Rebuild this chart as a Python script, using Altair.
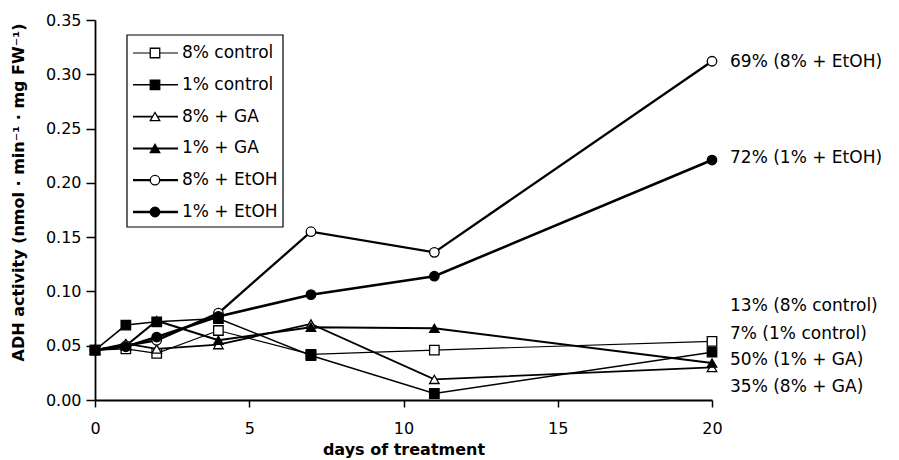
import altair as alt
import pandas as pd

# Sampling days and ADH activity per treatment (nmol · min⁻¹ · mg FW⁻¹)
days = [0, 1, 2, 4, 7, 11, 20]
series_names = ["8% control", "1% control", "8% + GA", "1% + GA", "8% + EtOH", "1% + EtOH"]
ctrl8 = [0.046, 0.047, 0.043, 0.064, 0.042, 0.046, 0.054]
ctrl1 = [0.046, 0.069, 0.072, 0.075, 0.041, 0.006, 0.044]
ga8 = [0.046, 0.052, 0.047, 0.051, 0.070, 0.019, 0.030]
ga1 = [0.046, 0.050, 0.073, 0.055, 0.067, 0.066, 0.034]
etoh8 = [0.046, 0.050, 0.055, 0.080, 0.155, 0.136, 0.312]
etoh1 = [0.046, 0.049, 0.058, 0.077, 0.097, 0.114, 0.221]

# Annotations at the right-hand end of the curves
end_labels = ["69% (8% + EtOH)", "72% (1% + EtOH)", "13% (8% control)",
              "7% (1% control)", "50% (1% + GA)", "35% (8% + GA)"]
end_label_y = [0.311, 0.223, 0.087, 0.061, 0.037, 0.012]

x_ticks = [0, 5, 10, 15, 20]
y_ticks = [0.0, 0.05, 0.10, 0.15, 0.20, 0.25, 0.30, 0.35]

FONT = "DejaVu Sans"

values_by_series = [ctrl8, ctrl1, ga8, ga1, etoh8, etoh1]
rows = []
for name, vals in zip(series_names, values_by_series):
    for d, v in zip(days, vals):
        rows.append({"series": name, "day": d, "value": v})
df = pd.DataFrame(rows)

labels_df = pd.DataFrame({"day": [20] * len(end_labels), "value": end_label_y, "label": end_labels})

# 8% series: open markers on thin lines; 1% series: filled markers on thick lines
shape_scale = alt.Scale(domain=series_names,
                        range=["square", "square", "triangle-up", "triangle-up", "circle", "circle"])
fill_scale = alt.Scale(domain=series_names,
                       range=["white", "black", "white", "black", "white", "black"])
width_scale = alt.Scale(domain=series_names, range=[1.2, 2.6, 1.2, 2.6, 1.2, 2.6])

x_enc = alt.X("day:Q",
              scale=alt.Scale(domain=[0, 20], nice=False, zero=False),
              axis=alt.Axis(values=x_ticks, format="d", grid=False,
                            tickSize=7, tickWidth=1.5, tickColor="black",
                            domainColor="black", domainWidth=1.8,
                            labelFont=FONT, labelFontSize=16, labelColor="black",
                            labelPadding=13, labelFlush=False,
                            title="days of treatment", titleFont=FONT, titleFontSize=16,
                            titleFontWeight="bold", titleColor="black", titlePadding=5))
y_enc = alt.Y("value:Q",
              scale=alt.Scale(domain=[0, 0.35], nice=False),
              axis=alt.Axis(values=y_ticks, format=".2f", grid=False,
                            tickSize=9, tickWidth=1.5, tickColor="black",
                            domainColor="black", domainWidth=1.8,
                            labelFont=FONT, labelFontSize=16, labelColor="black",
                            labelPadding=5, labelFlush=False,
                            title="ADH activity (nmol · min⁻¹ · mg FW⁻¹)",
                            titleFont=FONT, titleFontSize=16, titleFontWeight="bold",
                            titleColor="black", titleX=-77, titleY=172,
                            titleBaseline="middle", titleAlign="center", titleAngle=270))

lines = alt.Chart(df).mark_line(color="black").encode(
    x=x_enc, y=y_enc, detail="series:N",
    strokeWidth=alt.StrokeWidth("series:N", scale=width_scale, legend=None),
)

points = alt.Chart(df).mark_point(filled=True, stroke="black", strokeWidth=1.3,
                                  size=90, opacity=1).encode(
    x="day:Q", y="value:Q",
    shape=alt.Shape("series:N", scale=shape_scale, legend=None),
    fill=alt.Fill("series:N", scale=fill_scale, legend=None),
)

end_text = alt.Chart(labels_df).mark_text(align="left", baseline="middle", dx=18,
                                          font=FONT, fontSize=17, color="black").encode(
    x="day:Q", y="value:Q", text="label:N",
)

# Hand-built legend box in the upper-left corner of the plot (plot-area pixels)
legend_left, legend_right = 32, 188
legend_top, legend_bottom = 15, 207
row_first, row_step = 33, 31.8
legend_df = pd.DataFrame({"series": series_names})
legend_df["ly"] = [row_first + i * row_step for i in range(len(series_names))]

legend_box = alt.Chart(pd.DataFrame({"k": [0]})).mark_rect(
    fill="white", stroke="black", strokeWidth=1.2).encode(
    x=alt.value(legend_left), x2=alt.value(legend_right),
    y=alt.value(legend_top), y2=alt.value(legend_bottom),
)
legend_lines = alt.Chart(legend_df).mark_rule(color="black").encode(
    x=alt.value(legend_left + 6), x2=alt.value(legend_left + 51),
    y=alt.Y("ly:Q", scale=None, axis=None),
    strokeWidth=alt.StrokeWidth("series:N", scale=width_scale, legend=None),
)
legend_points = alt.Chart(legend_df).mark_point(filled=True, stroke="black", strokeWidth=1.3,
                                                size=90, opacity=1).encode(
    x=alt.value(legend_left + 28),
    y=alt.Y("ly:Q", scale=None, axis=None),
    shape=alt.Shape("series:N", scale=shape_scale, legend=None),
    fill=alt.Fill("series:N", scale=fill_scale, legend=None),
)
legend_text = alt.Chart(legend_df).mark_text(align="left", baseline="middle",
                                             font=FONT, fontSize=17, color="black").encode(
    x=alt.value(legend_left + 55),
    y=alt.Y("ly:Q", scale=None, axis=None),
    text="series:N",
)

chart = alt.layer(
    lines, points, end_text, legend_box, legend_lines, legend_points, legend_text
).properties(
    width=617, height=380,
    padding={"left": 95, "top": 20, "right": 187, "bottom": 60},
    autosize=alt.AutoSizeParams(type="none"),
    background="white",
).configure_view(stroke=None)

chart.save("out.html", embed_options={"renderer": "svg", "actions": False})
